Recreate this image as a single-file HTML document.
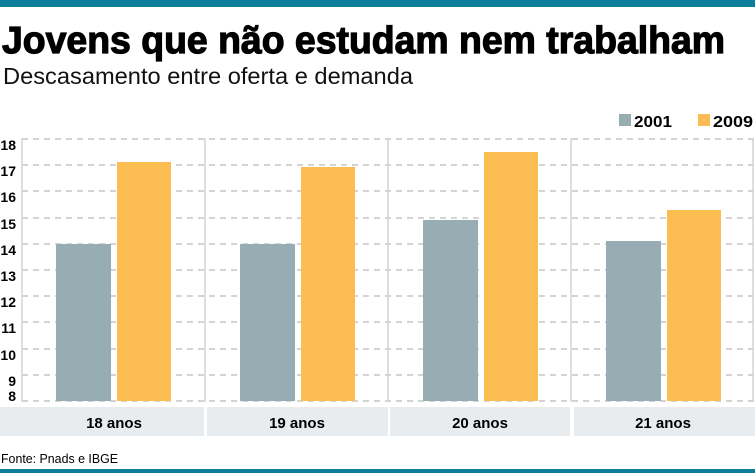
<!DOCTYPE html>
<html><head><meta charset="utf-8"><style>body{margin:0;background:#fff}svg{display:block}</style></head><body>
<svg width="755" height="473" xmlns="http://www.w3.org/2000/svg" font-family="Liberation Sans, sans-serif">
<rect x="0" y="0" width="755" height="7" fill="#0b7f9c"/>
<text x="2" y="53" font-size="38" font-weight="bold" textLength="723" lengthAdjust="spacingAndGlyphs" stroke="#000" stroke-width="1.2">Jovens que não estudam nem trabalham</text>
<text x="3" y="84" font-size="23" textLength="410" lengthAdjust="spacingAndGlyphs" fill="#111">Descasamento entre oferta e demanda</text>
<rect x="619" y="114" width="12" height="12" fill="#97adb4"/>
<text x="634" y="127" font-size="16" font-weight="bold" textLength="38" lengthAdjust="spacingAndGlyphs">2001</text>
<rect x="698" y="114" width="12" height="12" fill="#fbbc52"/>
<text x="713" y="127" font-size="16" font-weight="bold" textLength="40" lengthAdjust="spacingAndGlyphs">2009</text>
<g stroke="#bbb" stroke-width="1.3" stroke-dasharray="6,5">
<line x1="22" y1="139" x2="755" y2="139"/><line x1="22" y1="165" x2="755" y2="165"/><line x1="22" y1="191" x2="755" y2="191"/><line x1="22" y1="218" x2="755" y2="218"/><line x1="22" y1="244" x2="755" y2="244"/><line x1="22" y1="270" x2="755" y2="270"/><line x1="22" y1="296" x2="755" y2="296"/><line x1="22" y1="322" x2="755" y2="322"/><line x1="22" y1="349" x2="755" y2="349"/><line x1="22" y1="375" x2="755" y2="375"/><line x1="22" y1="401" x2="755" y2="401"/>
</g>
<g stroke="#d4d4d4" stroke-width="1.5">
<line x1="22" y1="138" x2="22" y2="402"/><line x1="205" y1="138" x2="205" y2="402"/><line x1="388" y1="138" x2="388" y2="402"/><line x1="571" y1="138" x2="571" y2="402"/><line x1="753" y1="138" x2="753" y2="402"/>
</g>
<g font-size="14" font-weight="bold" text-anchor="end">
<text x="16" y="150">18</text><text x="16" y="176">17</text><text x="16" y="202">16</text><text x="16" y="229">15</text><text x="16" y="255">14</text><text x="16" y="281">13</text><text x="16" y="307">12</text><text x="16" y="333">11</text><text x="16" y="360">10</text><text x="16" y="386">9</text><text x="16" y="401">8</text>
</g>
<g fill="#97adb4">
<rect x="56" y="244" width="55" height="157"/><rect x="240" y="244" width="55" height="157"/><rect x="423" y="220" width="55" height="181"/><rect x="606" y="241" width="55" height="160"/>
</g>
<g fill="#fbbc52">
<rect x="117" y="162" width="54" height="239"/><rect x="301" y="167" width="54" height="234"/><rect x="484" y="152" width="54" height="249"/><rect x="667" y="210" width="54" height="191"/>
</g>
<g fill="#e8ecee">
<rect x="0" y="407" width="204" height="29"/><rect x="207" y="407" width="181" height="29"/><rect x="390" y="407" width="180" height="29"/><rect x="574" y="407" width="181" height="29"/>
</g>
<g font-size="15" font-weight="bold" text-anchor="middle">
<text x="114" y="428">18 anos</text><text x="297" y="428">19 anos</text><text x="480" y="428">20 anos</text><text x="663" y="428">21 anos</text>
</g>
<text x="1" y="463" font-size="13" textLength="117" lengthAdjust="spacingAndGlyphs">Fonte: Pnads e IBGE</text>
<rect x="0" y="469" width="755" height="4" fill="#0b7f9c"/>
</svg>
</body></html>
